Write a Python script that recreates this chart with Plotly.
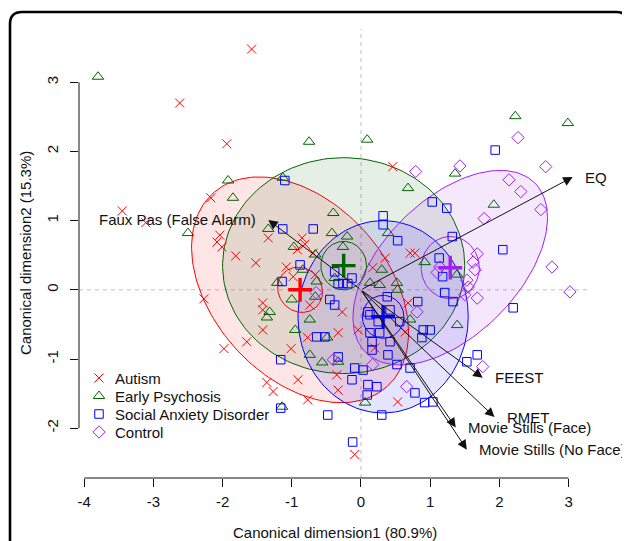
import numpy as np
import plotly.graph_objects as go

# ---------------- data ----------------
groups = ["Autism", "Early Psychosis", "Social Anxiety Disorder", "Control"]

aut_x = [-1.58, -2.62, -1.94, -3.45, -3.11, -2.17, -2.04, -2.08, -2.01, -1.81, -1.52, -1.34,
         -1.08, -0.85, -0.81, -0.92, -0.69, -0.98, -0.66, -1.42, -0.74, -2.27, -1.42, -1.42,
         -1.65, -1.98, -1.01, -0.77, -0.33, -0.91, -0.35, -0.33, -0.77, -1.27, -1.36, -0.04,
         0.46, 0.71, 0.78, 0.35, 0.17, -0.27, 0.20, 0.53, -0.09, 0.68, 0.64]
aut_y = [3.48, 2.70, 2.11, 1.14, 0.97, 1.33, 0.79, 0.69, 0.62, 0.49, 0.39, 0.75,
         0.33, 0.75, 0.66, 0.58, 0.53, 0.19, 0.22, -0.19, -0.22, -0.13, -0.29, -0.58,
         -0.75, -0.85, -0.85, -0.69, -0.62, -1.30, -1.23, -1.45, -1.59, -1.47, -1.34, -0.58,
         1.78, 0.53, 0.53, 0.46, 0.32, -0.32, -0.84, -1.62, -2.38, -0.19, -0.61]

ep_x = [-3.80, -0.75, 0.09, 2.23, 2.99, 1.36, 0.68, 1.92, -1.92, -1.85, -2.50, -1.34,
        -1.13, -0.97, -0.66, -0.84, -0.40, -0.42, -0.20, -0.26, 0.39, 0.92, 1.39, -0.38,
        -1.21, -0.64, -1.00, -0.66, 0.30, 0.13, 0.27, 0.52, 0.53, -1.32, -1.36, -0.95,
        -0.74, -0.74, -1.14, -0.49, -0.56, -0.33, 0.06, 1.39, 0.71]
ep_y = [3.08, 2.14, 2.17, 2.51, 2.41, 1.68, 1.47, 1.23, 1.58, 1.33, 0.82, 0.88,
        1.62, 0.62, 0.51, 0.29, 1.11, 0.82, 0.77, 0.62, 0.82, 0.40, 0.22, 0.17,
        0.10, 0.12, -0.14, -0.10, 0.29, 0.10, 0.07, 0.10, 0.00, -0.32, -0.40, -0.58,
        -0.43, -0.94, -1.69, -0.69, -1.05, -1.04, -1.63, -0.51, -0.43]

sad_x = [-1.10, -1.13, -0.69, -0.88, 1.94, 1.03, 1.24, 0.32, 0.32, 0.53, 1.32, 2.05,
         1.13, 1.18, -0.38, -0.13, -1.14, -0.33, -0.26, -0.19, -0.45, -0.38, 1.21, 1.33,
         0.82, 0.38, -1.16, -1.16, -0.64, -0.52, -0.33, -0.09, -0.13, -0.48, 0.13, 0.25,
         0.42, 0.56, 0.27, 0.16, 0.16, 0.42, 0.39, 0.90, 1.00, 0.88, 0.03, 0.10,
         0.23, 0.09, 0.52, 0.71, 0.78, 0.92, 1.04, 0.30, -0.12, 2.20, 1.53, 1.68,
         0.10, 0.13]
sad_y = [1.58, 0.88, 0.88, 0.36, 2.02, 1.27, 1.18, 1.07, 0.94, 0.71, 0.77, 0.58,
         0.46, 0.19, 0.26, 0.17, 0.12, 0.09, 0.09, 0.09, -0.14, -0.22, -0.04, -0.17,
         -0.17, -0.10, -1.01, -1.71, -0.68, -0.68, -0.97, -1.13, -1.30, -1.81, -0.36, -0.46,
         -0.29, -0.46, -0.62, -0.75, -0.87, -0.75, -0.94, -0.58, -0.58, -0.69, -1.16, -1.37,
         -1.40, -1.52, -1.08, -1.13, -1.49, -1.63, -1.62, -1.81, -2.20, -0.26, -1.04, -0.94,
         -0.32, -0.62]

con_x = [2.27, 1.43, 0.79, 2.67, 2.14, 2.31, 2.60, 1.78, 1.68, 1.62, 2.76, 1.14,
         1.65, 1.53, 1.55, 1.50, 1.68, 3.02, 0.81, 0.17, 0.66, 1.76, -0.40, -0.65, 1.10]
con_y = [2.20, 1.79, 1.71, 1.78, 1.59, 1.42, 1.16, 1.03, 0.52, 0.40, 0.33, 0.33,
         0.29, 0.14, 0.04, -0.07, -0.12, -0.03, -0.32, -1.08, -1.40, -1.11, -1.01, -0.04, 0.25]

# group means (canonical scores)
cent_x = [-0.88, -0.25, 0.32, 1.29]
cent_y = [0.00, 0.35, -0.39, 0.32]

# data ellipses (large, filled) and mean ellipses (small)
big_a = [1.88, 1.75, 1.23, 1.73]
big_b = [1.26, 1.56, 1.39, 0.98]
big_ang = [-48, 0, 0, 45]
small_a = [0.34, 0.33, 0.30, 0.42]
small_b = [0.31, 0.35, 0.31, 0.45]
small_ang = [-48, 0, 0, 0]

# structure-coefficient vectors
vec_names = ["Faux Pas (False Alarm)", "EQ", "FEEST", "RMET",
             "Movie Stills (Face)", "Movie Stills (No Face)"]
vec_x = [-1.34, 3.06, 1.76, 1.93, 1.37, 1.53]
vec_y = [1.01, 1.63, -1.27, -1.84, -1.99, -2.31]

x_ticks = [-4, -3, -2, -1, 0, 1, 2, 3]
y_ticks = [-2, -1, 0, 1, 2, 3]
x_tick_labels = ["-4", "-3", "-2", "-1", "0", "1", "2", "3"]
y_tick_labels = ["-2", "-1", "0", "1", "2", "3"]

# ---------------- styling / layout ----------------
colors = ["#FF0000", "#006400", "#0000FF", "#A020F0"]
fills = ["rgba(255,0,0,0.10)", "rgba(0,100,0,0.10)", "rgba(0,0,255,0.10)", "rgba(160,32,240,0.10)"]
symbols = ["x-thin-open", "triangle-up-open", "square-open", "diamond-open"]
sizes = [9, 10, 8.5, 9.5]
FONT = "Liberation Sans, Arial, sans-serif"
TXT = "#111111"

W, H = 630, 541
OFF = 8                      # page body margin of the html page
PL, PR, PT, PB = 79, 590, 29, 478   # plot area in screenshot pixels
ML, MT = PL - OFF, PT - OFF
MR, MB = W - (PR - OFF), H - (PB - OFF)
XR = [-4.075, 3.31]
YR = [-2.72, 3.77]


def ellipse(cx, cy, a, b, ang, n=160):
    t = np.linspace(0, 2 * np.pi, n)
    th = np.deg2rad(ang)
    ex = a * np.cos(t)
    ey = b * np.sin(t)
    return cx + ex * np.cos(th) - ey * np.sin(th), cy + ex * np.sin(th) + ey * np.cos(th)


def pxx(px):   # screenshot px -> paper x
    return (px - PL) / (PR - PL)


def pxy(py):   # screenshot px -> paper y
    return (PB - py) / (PB - PT)


def px2dx(px):
    return XR[0] + pxx(px) * (XR[1] - XR[0])


def px2dy(py):
    return YR[0] + pxy(py) * (YR[1] - YR[0])


fig = go.Figure()

# large filled ellipses
for i in range(4):
    ex, ey = ellipse(cent_x[i], cent_y[i], big_a[i], big_b[i], big_ang[i])
    fig.add_trace(go.Scatter(x=ex, y=ey, mode="lines", fill="toself", fillcolor=fills[i],
                             line=dict(color=colors[i], width=1), showlegend=False,
                             hoverinfo="skip"))
# small mean ellipses
for i in range(4):
    ex, ey = ellipse(cent_x[i], cent_y[i], small_a[i], small_b[i], small_ang[i])
    fig.add_trace(go.Scatter(x=ex, y=ey, mode="lines",
                             line=dict(color=colors[i], width=1), showlegend=False,
                             hoverinfo="skip"))

# points
pts = [(aut_x, aut_y), (ep_x, ep_y), (sad_x, sad_y), (con_x, con_y)]
for i, (xs, ys) in enumerate(pts):
    fig.add_trace(go.Scatter(x=xs, y=ys, mode="markers", name=groups[i], showlegend=False,
                             marker=dict(symbol=symbols[i], size=sizes[i], color=colors[i],
                                         line=dict(color=colors[i], width=1))))

# group means
for i in range(4):
    fig.add_trace(go.Scatter(x=[cent_x[i]], y=[cent_y[i]], mode="markers", showlegend=False,
                             hoverinfo="skip",
                             marker=dict(symbol="cross-thin-open", size=17, color=colors[i],
                                         line=dict(color=colors[i], width=3.4))))

annotations = []
for i, nm in enumerate(vec_names):
    annotations.append(dict(x=vec_x[i], y=vec_y[i], ax=0, ay=0, xref="x", yref="y",
                            axref="x", ayref="y", text="", showarrow=True,
                            arrowhead=2, arrowsize=1.9, arrowwidth=1, arrowcolor=TXT))
    left = vec_x[i] < 0
    annotations.append(dict(x=vec_x[i], y=vec_y[i], xref="x", yref="y", text=nm,
                            showarrow=False, xanchor="right" if left else "left",
                            yanchor="middle", xshift=-10 if left else 10,
                            font=dict(size=15, color=TXT, family=FONT)))

# legend (R style, drawn inside the plot)
LEG_SYM_X, LEG_TXT_X, LEG_Y0, LEG_DY = 99, 113, 378, 18
for i in range(4):
    fig.add_trace(go.Scatter(x=[px2dx(LEG_SYM_X)], y=[px2dy(LEG_Y0 + i * LEG_DY)],
                             mode="markers", showlegend=False, hoverinfo="skip",
                             marker=dict(symbol=symbols[i], size=sizes[i], color=colors[i],
                                         line=dict(color=colors[i], width=1))))
    annotations.append(dict(x=pxx(LEG_TXT_X), y=pxy(LEG_Y0 + i * LEG_DY), xref="paper",
                            yref="paper", text=groups[i], showarrow=False, xanchor="left",
                            yanchor="middle", font=dict(size=15, color=TXT, family=FONT)))

annotations.append(dict(x=0.5, y=pxy(532), xref="paper", yref="paper", showarrow=False,
                        text="Canonical dimension1 (80.9%)", yanchor="middle",
                        font=dict(size=15, color=TXT, family=FONT)))
annotations.append(dict(x=pxx(25), y=pxy(253), xref="paper", yref="paper", showarrow=False,
                        text="Canonical dimension2 (15.3%)", textangle=-90, xanchor="center",
                        yanchor="middle", font=dict(size=15, color=TXT, family=FONT)))

# frame with rounded top corners
L, R, T, B, r = 10, 628, 12, 560, 12
path = (f"M {pxx(L)},{pxy(B)} L {pxx(L)},{pxy(T + r)} Q {pxx(L)},{pxy(T)} {pxx(L + r)},{pxy(T)} "
        f"L {pxx(R - r)},{pxy(T)} Q {pxx(R)},{pxy(T)} {pxx(R)},{pxy(T + r)} L {pxx(R)},{pxy(B)}")

shapes = [
    dict(type="line", xref="paper", yref="y", x0=0, x1=1, y0=0, y1=0,
         line=dict(color="#BEBEBE", width=1, dash="4px,4px"), layer="below"),
    dict(type="line", xref="x", yref="paper", x0=0, x1=0, y0=0, y1=1,
         line=dict(color="#BEBEBE", width=1, dash="4px,4px"), layer="below"),
    dict(type="line", xref="x", yref="paper", x0=x_ticks[0], x1=x_ticks[-1], y0=0, y1=0,
         line=dict(color=TXT, width=1)),
    dict(type="line", xref="paper", yref="y", x0=0, x1=0, y0=y_ticks[0], y1=y_ticks[-1],
         line=dict(color=TXT, width=1)),
    dict(type="path", xref="paper", yref="paper", path=path,
         line=dict(color="black", width=2.6)),
]

fig.update_layout(
    width=W, height=H,
    margin=dict(l=ML, r=MR, t=MT, b=MB, autoexpand=False),
    paper_bgcolor="white", plot_bgcolor="white",
    font=dict(family=FONT, size=15, color=TXT),
    xaxis=dict(range=XR, tickvals=x_ticks, ticktext=x_tick_labels, ticks="outside",
               ticklen=8, tickwidth=1, tickcolor=TXT, showgrid=False, zeroline=False,
               showline=False, tickfont=dict(size=15), ticklabelstandoff=2),
    yaxis=dict(range=YR, tickvals=y_ticks, ticktext=y_tick_labels, ticks="outside",
               ticklen=8, tickwidth=1, tickcolor=TXT, showgrid=False, zeroline=False,
               showline=False, tickfont=dict(size=15), tickangle=-90, ticklabelstandoff=6),
    shapes=shapes,
    annotations=annotations,
    showlegend=False,
)

fig.write_html("out.html")
